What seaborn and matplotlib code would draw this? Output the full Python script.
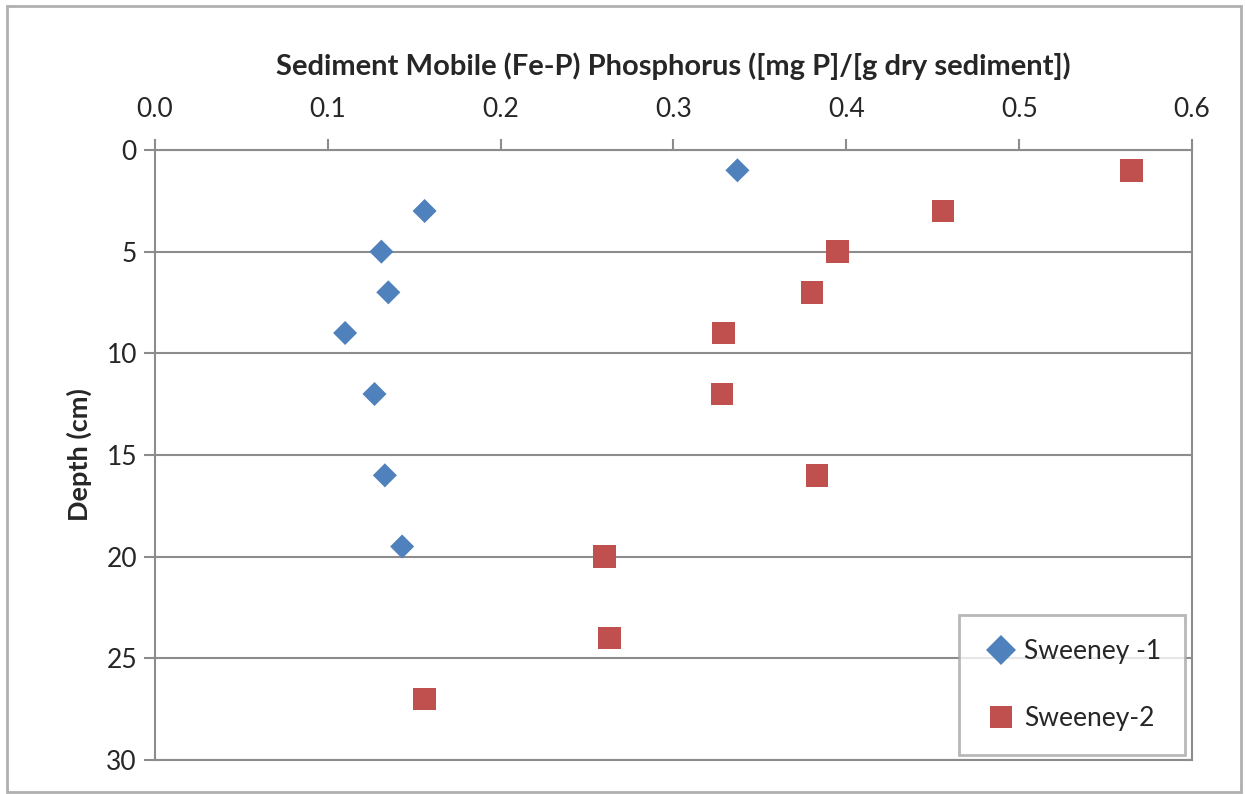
import numpy as np
import pandas as pd
import matplotlib.pyplot as plt
import seaborn as sns
from matplotlib.patches import Rectangle

# Sweeney-1 core
depth_1 = [1, 3, 5, 7, 9, 12, 16, 19.5]
phos_1 = [0.337, 0.156, 0.131, 0.135, 0.110, 0.127, 0.133, 0.143]

# Sweeney-2 core
depth_2 = [1, 3, 5, 7, 9, 12, 16, 20, 24, 27]
phos_2 = [0.565, 0.456, 0.395, 0.380, 0.329, 0.328, 0.383, 0.260, 0.263, 0.156]

labels = ['Sweeney -1', 'Sweeney-2']
colors = ['#4F81BD', '#C0504D']

df = pd.DataFrame({
    'phos': phos_1 + phos_2,
    'depth': depth_1 + depth_2,
    'core': [labels[0]] * len(depth_1) + [labels[1]] * len(depth_2),
})

sns.set_style('white')
plt.rcParams['font.family'] = ['Lato', 'DejaVu Sans']

fig = plt.figure(figsize=(12.45, 7.94), dpi=100)
ax = fig.add_axes([0.1245, 0.0428, 0.8329, 0.7683])

sns.scatterplot(data=df, x='phos', y='depth', hue='core', style='core',
                palette=dict(zip(labels, colors)),
                markers=dict(zip(labels, ['D', 's'])),
                s=230, edgecolor='none', ax=ax, zorder=3)

# diamond a bit smaller than the square
coll = ax.collections[0]
sizes = [150 if c == labels[0] else 260 for c in df['core']]
coll.set_sizes(sizes)

ax.set_xlim(0, 0.6)
ax.set_ylim(30, 0)
ax.set_xticks(np.arange(0, 0.61, 0.1))
ax.set_xticklabels([f'{v:.1f}' for v in np.arange(0, 0.61, 0.1)])
ax.set_yticks(range(0, 31, 5))
ax.xaxis.tick_top()
ax.xaxis.set_label_position('top')
ax.tick_params(axis='x', top=True, bottom=False, direction='out', length=8, width=1.5,
               color='#8c8c8c', labelsize=19, pad=12, labelcolor='#262626')
ax.tick_params(axis='y', left=True, direction='out', length=8, width=1.5,
               color='#8c8c8c', labelsize=19, pad=5, labelcolor='#262626')

ax.grid(axis='y', color='#8c8c8c', linewidth=1.5)
ax.grid(axis='x', visible=False)
for sp in ax.spines.values():
    sp.set_visible(True)
    sp.set_color('#8c8c8c')
    sp.set_linewidth(1.5)

ax.set_xlabel('Sediment Mobile (Fe-P) Phosphorus ([mg P]/[g dry sediment])',
              fontsize=21, fontweight='bold', labelpad=16)
ax.set_ylabel('Depth (cm)', fontsize=19.5, fontweight='bold', labelpad=10)

handles, _ = ax.get_legend_handles_labels()
handles[0].set_markersize(15)
handles[1].set_markersize(16)
leg = ax.legend(handles=handles, labels=labels, loc='lower right',
                bbox_to_anchor=(0.993, 0.008), fontsize=19, frameon=True,
                fancybox=False, edgecolor='#a6a6a6', labelspacing=1.6,
                handletextpad=0.15, handlelength=1.4, borderpad=0.9,
                borderaxespad=0)
leg.get_frame().set_linewidth(2)

fig.patches.append(Rectangle((0.006, 0.003), 0.991, 0.99, transform=fig.transFigure,
                             fill=False, edgecolor='#b0b0b0', linewidth=2))

fig.savefig('out.png', dpi=100, facecolor='white')
